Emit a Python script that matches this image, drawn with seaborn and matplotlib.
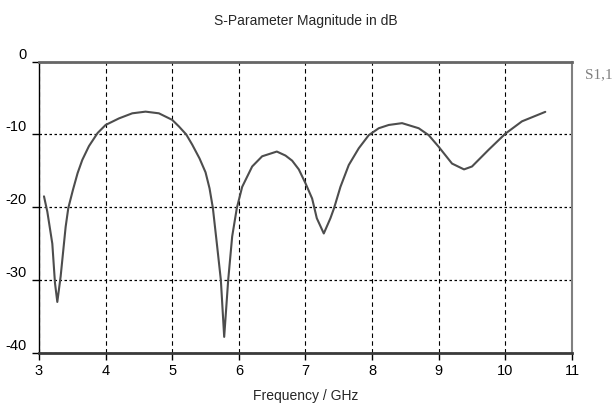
import matplotlib
matplotlib.use("Agg")
import matplotlib.pyplot as plt
from matplotlib import font_manager
import seaborn as sns
import pandas as pd

# S11 curve
freq_ghz = [3.075, 3.125, 3.2, 3.24, 3.275, 3.325, 3.4, 3.44, 3.51, 3.58, 3.65, 3.75, 3.88,
            4.0, 4.2, 4.4, 4.6, 4.8, 5.0, 5.1, 5.21, 5.3, 5.41, 5.5, 5.56, 5.61,
            5.67, 5.73, 5.78, 5.84, 5.9, 5.97, 6.05, 6.2, 6.35, 6.57, 6.7, 6.8, 6.9,
            7.0, 7.1, 7.17, 7.275, 7.375, 7.43, 7.525, 7.65, 7.8, 7.95, 8.1, 8.25, 8.45, 8.7,
            8.85, 9.0, 9.2, 9.38, 9.5, 9.75, 10.0, 10.25, 10.6]
s11_db = [-18.5, -20.6, -25.0, -30.4, -33.0, -29.5, -22.7, -20.1, -17.6, -15.3, -13.5, -11.6, -9.8,
          -8.7, -7.8, -7.1, -6.87, -7.1, -8.0, -8.9, -10.0, -11.4, -13.3, -15.2, -17.4, -20.1,
          -25.0, -30.0, -37.8, -30.0, -24.0, -20.1, -17.2, -14.4, -13.0, -12.35, -12.9, -13.6, -14.8,
          -16.7, -18.8, -21.5, -23.6, -21.5, -20.1, -17.2, -14.2, -11.9, -10.1, -9.15, -8.7, -8.45, -9.15,
          -10.1, -11.7, -14.0, -14.8, -14.4, -12.1, -9.9, -8.2, -6.9]

x_ticks = [3, 4, 5, 6, 7, 8, 9, 10, 11]
y_ticks = [0, -10, -20, -30, -40]

df = pd.DataFrame({"freq": freq_ghz, "s11": s11_db})

sns.set_theme(style="white")
installed = {f.name for f in font_manager.fontManager.ttflist}
sans = "Liberation Sans Narrow" if "Liberation Sans Narrow" in installed else "Liberation Sans"
plt.rcParams["font.family"] = [sans, "DejaVu Sans"]
fs = 11.5 if sans.endswith("Narrow") else 10.5

fig = plt.figure(figsize=(6.14, 4.08), dpi=100)
ax = fig.add_axes([0.0635, 0.135, 0.868, 0.714])

sns.lineplot(data=df, x="freq", y="s11", ax=ax, color="#4d4d4d", linewidth=1.5, sort=False)

ax.set_xlim(3, 11)
ax.set_ylim(-40, 0)
ax.set_xticks(x_ticks)
ax.set_yticks(y_ticks)
ax.set_xticklabels([str(t) for t in x_ticks], fontsize=fs)
ax.set_yticklabels([str(t) for t in y_ticks], fontsize=fs)
for lab in ax.get_yticklabels():
    lab.set_va("bottom")

ax.xaxis.grid(True, color="black", linestyle=(0, (4, 3)), linewidth=0.8)
ax.yaxis.grid(True, color="black", linestyle=(0, (2, 2)), linewidth=0.9)
ax.tick_params(axis="both", which="major", length=5, width=1, color="black",
               bottom=True, left=True, labelcolor="black")
ax.tick_params(axis="x", pad=3)
ax.tick_params(axis="y", pad=4)

ax.spines["top"].set_color("#666666")
ax.spines["top"].set_linewidth(2)
ax.spines["bottom"].set_color("#3a3a3a")
ax.spines["bottom"].set_linewidth(2)
ax.spines["left"].set_color("black")
ax.spines["left"].set_linewidth(1)
ax.spines["right"].set_color("#808080")
ax.spines["right"].set_linewidth(1.5)

ax.set_xlabel("Frequency / GHz", fontsize=fs - 0.5, labelpad=8)
ax.set_ylabel("")
fig.text(0.498, 0.948, "S-Parameter Magnitude in dB", ha="center", va="center", fontsize=fs - 0.5)
fig.text(0.953, 0.817, "S1,1", ha="left", va="center", fontsize=11,
         family=["Liberation Serif", "DejaVu Serif"], color="#808080")

fig.savefig("out.png", dpi=100)
